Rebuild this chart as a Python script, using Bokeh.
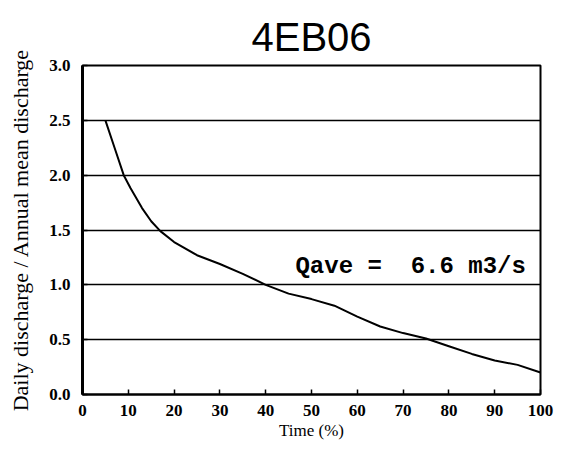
from bokeh.plotting import figure
from bokeh.embed import file_html
from bokeh.resources import INLINE
from bokeh.models import Label, Range1d, FixedTicker, NumeralTickFormatter

# Data
time_pct = [5, 7, 9, 10.5, 13, 15, 17, 20, 25, 30, 35, 40, 45, 50, 55, 60, 65, 70, 75, 80, 85, 90, 95, 100]
ratio = [2.5, 2.25, 2.0, 1.88, 1.7, 1.58, 1.49, 1.39, 1.27, 1.19, 1.1, 1.0, 0.92, 0.87, 0.81,
         0.71, 0.62, 0.56, 0.51, 0.44, 0.37, 0.31, 0.27, 0.2]
x_ticks = [0, 10, 20, 30, 40, 50, 60, 70, 80, 90, 100]
y_ticks = [0.0, 0.5, 1.0, 1.5, 2.0, 2.5, 3.0]
title_text = "4EB06"
note_text = "Qave =\u00a0\u00a06.6 m3/s"
note_pos = (46.5, 1.045)

p = figure(width=559, height=452, output_backend="svg", toolbar_location=None,
           x_range=Range1d(0, 100), y_range=Range1d(0, 3.0),
           min_border_left=82, min_border_right=19, min_border_top=65, min_border_bottom=58,
           title=title_text)
p.background_fill_color = "white"
p.border_fill_color = "white"
p.outline_line_color = "black"
p.outline_line_width = 2

p.title.align = "center"
p.title.text_font = "Liberation Sans"
p.title.text_font_style = "normal"
p.title.text_font_size = "40px"
p.title.text_color = "black"
p.title.text_line_height = 0.8
p.title.standoff = 14

p.line(time_pct, ratio, line_color="black", line_width=2)

serif = "Liberation Serif"
p.xaxis.ticker = FixedTicker(ticks=x_ticks)
p.yaxis.ticker = FixedTicker(ticks=y_ticks)
p.yaxis.formatter = NumeralTickFormatter(format="0.0")
for ax in (p.xaxis[0], p.yaxis[0]):
    ax.major_label_text_font = serif
    ax.major_label_text_font_style = "bold"
    ax.major_label_text_font_size = "17px"
    ax.major_label_text_color = "black"
    ax.axis_label_text_font = serif
    ax.axis_label_text_font_style = "normal"
    ax.axis_label_text_color = "black"
    ax.axis_line_color = "black"
    ax.major_tick_in = 5
    ax.major_tick_out = 0
    ax.minor_tick_line_color = None
    ax.major_tick_line_color = "black"
    ax.major_tick_line_width = 1.5

p.xaxis.major_label_standoff = 10
p.yaxis.major_label_standoff = 12
p.xaxis.axis_line_width = 2
p.yaxis.axis_line_width = 3
p.xaxis.axis_label = "Time (%)"
p.xaxis.axis_label_text_font_size = "17px"
p.xaxis.axis_label_standoff = 2
p.yaxis.axis_label = "Daily discharge / Annual mean discharge"
p.yaxis.axis_label_text_font_size = "22px"
p.yaxis.axis_label_standoff = 13

p.xgrid.grid_line_color = None
p.ygrid.grid_line_color = "black"
p.ygrid.grid_line_width = 1.5

p.add_layout(Label(x=note_pos[0], y=note_pos[1], text=note_text, text_align="left",
                   text_baseline="bottom", text_font="Liberation Mono",
                   text_font_style="bold", text_font_size="24px", text_color="black"))

open("out.html", "w").write(file_html(p, INLINE))
